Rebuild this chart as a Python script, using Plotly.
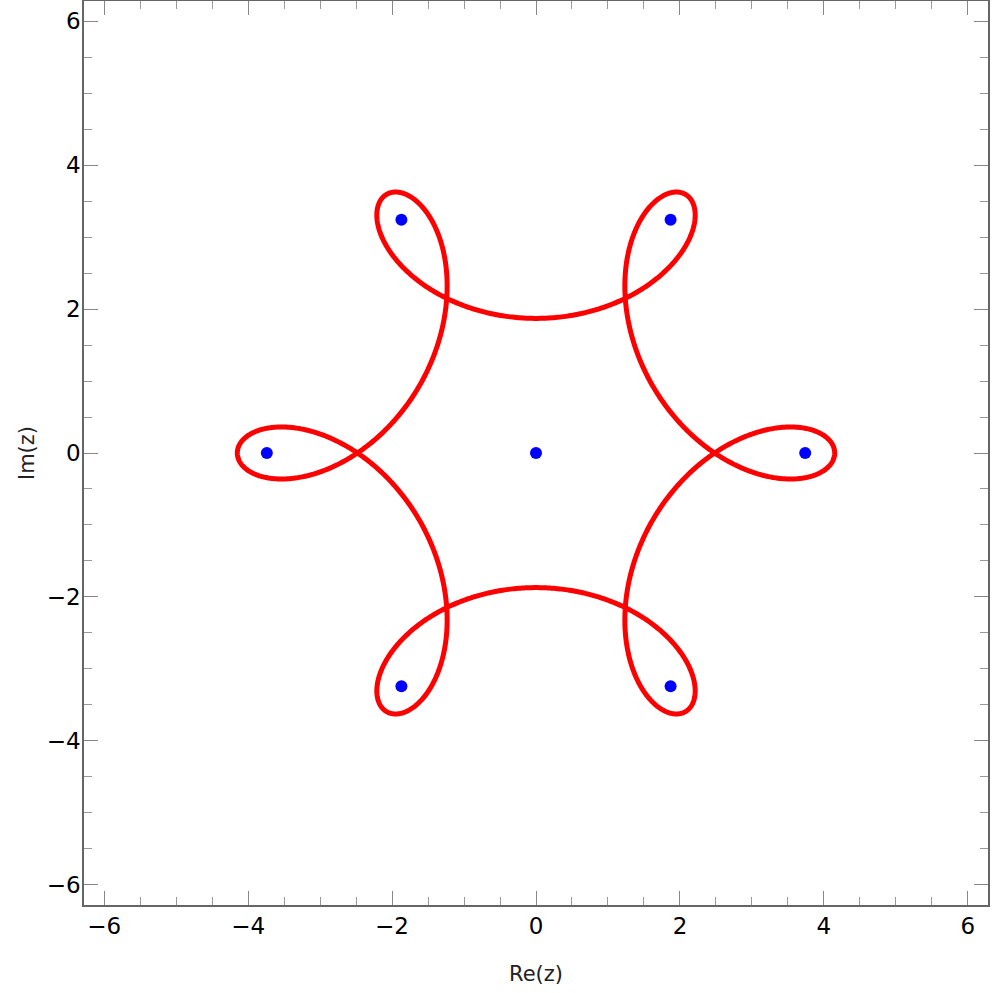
import numpy as np
import plotly.graph_objects as go

# Curve parameters: z(t) = A e^{it} + B e^{-5it}
A_RADIUS = 3.01   # main circle radius
B_RADIUS = 1.14   # epicycle radius
FOLD = 6

# Blue points
pt_re = [0.0, 3.74, 1.87, -1.87, -3.74, -1.87, 1.87]
pt_im = [0.0, 0.0, 3.24, 3.24, 0.0, -3.24, -3.24]

tick_vals = [-6, -4, -2, 0, 2, 4, 6]
tick_text = ["\u22126", "\u22124", "\u22122", "0", "2", "4", "6"]

t = np.linspace(0, 2 * np.pi, 2001)
z = A_RADIUS * np.exp(1j * t) + B_RADIUS * np.exp(-1j * (FOLD - 1) * t)

fig = go.Figure()
fig.add_trace(go.Scatter(x=z.real, y=z.imag, mode="lines",
                         line=dict(color="#ff0000", width=5, simplify=False), hoverinfo="skip"))
fig.add_trace(go.Scatter(x=pt_re, y=pt_im, mode="markers", hoverinfo="skip",
                         marker=dict(color="#0000ff", size=12)))

axis_common = dict(
    range=[-6.28, 6.28], tickvals=tick_vals, ticktext=tick_text, automargin=False,
    showgrid=False, zeroline=False, showline=True, linecolor="#666666", linewidth=1.5,
    mirror="allticks", ticks="inside", ticklen=14, tickwidth=1.2, tickcolor="#888888",
    minor=dict(dtick=0.5, ticks="inside", ticklen=8, tickwidth=1, tickcolor="#999999", showgrid=False),
    tickfont=dict(family="DejaVu Sans", size=23, color="black"),
)

fig.update_layout(
    width=996, height=993,
    margin=dict(l=84, r=8, t=1, b=88, autoexpand=False),
    paper_bgcolor="white", plot_bgcolor="white",
    showlegend=False,
    xaxis=dict(axis_common, ticklabelstandoff=0,
               title=dict(text="Re(z)", font=dict(family="DejaVu Sans", size=21, color="#222222"), standoff=28)),
    yaxis=dict(axis_common, ticklabelstandoff=-3,
               title=dict(text="Im(z)", font=dict(family="DejaVu Sans", size=21, color="#222222"), standoff=6)),
)

fig.write_html(
    "out.html",
    config={"displayModeBar": False},
    post_script="document.body.style.margin='0';document.documentElement.style.overflow='hidden';document.body.style.overflow='hidden';",
)
